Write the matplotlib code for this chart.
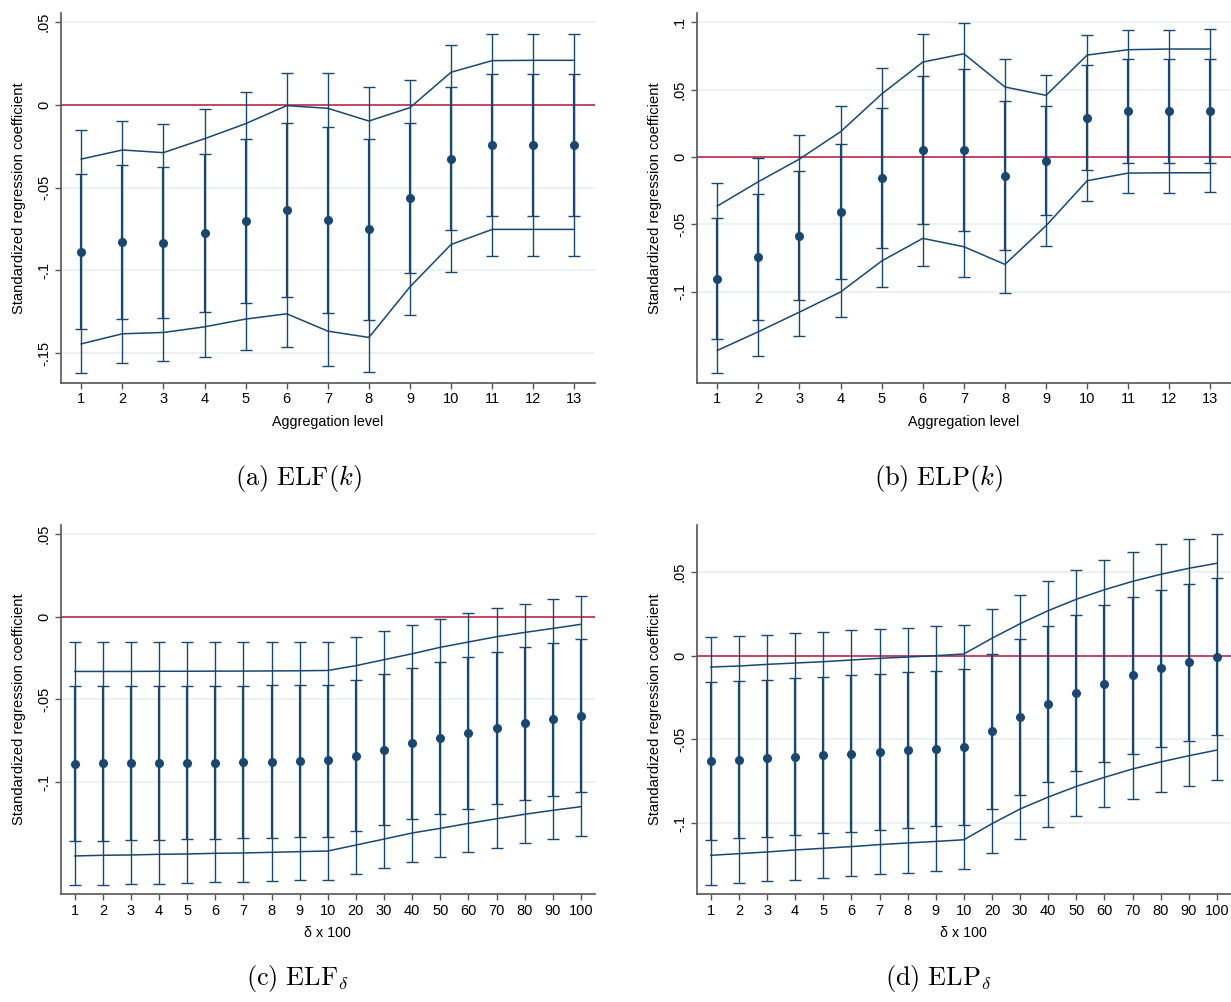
import numpy as np
import matplotlib.pyplot as plt

plt.rcParams['font.family'] = ['Liberation Sans', 'DejaVu Sans']
plt.rcParams['mathtext.fontset'] = 'cm'

navy = "#1a476f"
rojo = "#c0284a"
grid_col = "#e8f0f2"

# ---- panel (a) ELF(k)
k_niveles = list(range(1, 14))
a_coef = [-0.0887, -0.0829, -0.0833, -0.0772, -0.0704, -0.0633, -0.0694, -0.0752, -0.0560, -0.0325, -0.0244, -0.0240, -0.0240]
a_ci95_hi = [-0.0151, -0.0095, -0.0117, -0.0022, 0.0077, 0.0196, 0.0192, 0.0109, 0.0151, 0.0361, 0.0429, 0.0431, 0.0431]
a_ci95_lo = [-0.1623, -0.1558, -0.1546, -0.1522, -0.1480, -0.1464, -0.1579, -0.1613, -0.1270, -0.1008, -0.0915, -0.0913, -0.0913]
a_ci90_hi = [-0.0417, -0.0361, -0.0375, -0.0296, -0.0206, -0.0107, -0.0131, -0.0204, -0.0107, 0.0111, 0.0185, 0.0190, 0.0188]
a_ci90_lo = [-0.1357, -0.1294, -0.1288, -0.1250, -0.1198, -0.1159, -0.1258, -0.1300, -0.1014, -0.0758, -0.0671, -0.0669, -0.0671]
a_sup = [-0.0327, -0.0272, -0.0288, -0.0204, -0.0113, -0.0004, -0.0020, -0.0097, -0.0016, 0.0198, 0.0268, 0.0270, 0.0270]
a_inf = [-0.1444, -0.1383, -0.1375, -0.1341, -0.1294, -0.1262, -0.1367, -0.1405, -0.1099, -0.0843, -0.0752, -0.0752, -0.0752]

# ---- panel (b) ELP(k)
b_coef = [-0.0903, -0.0740, -0.0584, -0.0408, -0.0153, 0.0050, 0.0050, -0.0139, -0.0027, 0.0287, 0.0339, 0.0339, 0.0341]
b_ci95_hi = [-0.0196, -0.0005, 0.0166, 0.0379, 0.0661, 0.0913, 0.0993, 0.0730, 0.0609, 0.0906, 0.0943, 0.0946, 0.0948]
b_ci95_lo = [-0.1607, -0.1475, -0.1329, -0.1191, -0.0968, -0.0809, -0.0891, -0.1007, -0.0661, -0.0324, -0.0265, -0.0265, -0.0263]
b_ci90_hi = [-0.0453, -0.0272, -0.0106, 0.0094, 0.0366, 0.0599, 0.0651, 0.0416, 0.0381, 0.0681, 0.0725, 0.0727, 0.0727]
b_ci90_lo = [-0.1351, -0.1208, -0.1059, -0.0906, -0.0673, -0.0498, -0.0550, -0.0691, -0.0431, -0.0099, -0.0047, -0.0045, -0.0045]
b_sup = [-0.0364, -0.0183, -0.0015, 0.0188, 0.0468, 0.0705, 0.0767, 0.0520, 0.0458, 0.0757, 0.0797, 0.0802, 0.0802]
b_inf = [-0.1436, -0.1297, -0.1151, -0.1002, -0.0772, -0.0604, -0.0666, -0.0797, -0.0510, -0.0176, -0.0119, -0.0117, -0.0117]

# ---- panel (c) ELF_delta
delta_labels = ["1", "2", "3", "4", "5", "6", "7", "8", "9", "10",
                "20", "30", "40", "50", "60", "70", "80", "90", "100"]
c_coef = [-0.0889, -0.0887, -0.0887, -0.0885, -0.0885, -0.0883, -0.0881, -0.0877, -0.0875, -0.0869,
          -0.0841, -0.0804, -0.0766, -0.0734, -0.0702, -0.0671, -0.0645, -0.0621, -0.0599]
c_ci95_hi = [-0.0155, -0.0155, -0.0155, -0.0155, -0.0155, -0.0155, -0.0155, -0.0155, -0.0155, -0.0151,
             -0.0125, -0.0089, -0.0048, -0.0012, 0.0022, 0.0052, 0.0079, 0.0105, 0.0127]
c_ci95_lo = [-0.1623, -0.1621, -0.1617, -0.1615, -0.1611, -0.1607, -0.1603, -0.1597, -0.1593, -0.1591,
             -0.1554, -0.1518, -0.1484, -0.1454, -0.1423, -0.1397, -0.1371, -0.1347, -0.1325]
c_ci90_hi = [-0.0417, -0.0417, -0.0417, -0.0417, -0.0417, -0.0417, -0.0417, -0.0415, -0.0413, -0.0411,
             -0.0385, -0.0349, -0.0310, -0.0274, -0.0242, -0.0212, -0.0183, -0.0157, -0.0135]
c_ci90_lo = [-0.1357, -0.1355, -0.1353, -0.1349, -0.1347, -0.1343, -0.1339, -0.1337, -0.1333, -0.1331,
             -0.1294, -0.1258, -0.1224, -0.1191, -0.1161, -0.1133, -0.1107, -0.1083, -0.1060]
c_sup = [-0.0331, -0.0331, -0.0331, -0.0330, -0.0330, -0.0329, -0.0329, -0.0328, -0.0327, -0.0325,
         -0.0296, -0.0260, -0.0224, -0.0185, -0.0153, -0.0121, -0.0095, -0.0071, -0.0046]
c_inf = [-0.1447, -0.1443, -0.1441, -0.1437, -0.1435, -0.1431, -0.1429, -0.1425, -0.1421, -0.1417,
         -0.1381, -0.1345, -0.1308, -0.1280, -0.1250, -0.1222, -0.1195, -0.1171, -0.1149]

# ---- panel (d) ELP_delta
d_coef = [-0.0629, -0.0622, -0.0614, -0.0604, -0.0594, -0.0586, -0.0576, -0.0566, -0.0556, -0.0546,
          -0.0452, -0.0367, -0.0291, -0.0223, -0.0167, -0.0118, -0.0076, -0.0040, -0.0008]
d_ci95_hi = [0.0110, 0.0118, 0.0125, 0.0133, 0.0141, 0.0151, 0.0161, 0.0167, 0.0177, 0.0185,
             0.0277, 0.0365, 0.0444, 0.0512, 0.0572, 0.0622, 0.0665, 0.0697, 0.0727]
d_ci95_lo = [-0.1371, -0.1359, -0.1349, -0.1339, -0.1329, -0.1319, -0.1307, -0.1297, -0.1285, -0.1277,
             -0.1179, -0.1096, -0.1022, -0.0958, -0.0902, -0.0855, -0.0815, -0.0777, -0.0741]
d_ci90_hi = [-0.0159, -0.0151, -0.0143, -0.0133, -0.0125, -0.0116, -0.0108, -0.0098, -0.0090, -0.0080,
             0.0012, 0.0100, 0.0177, 0.0245, 0.0303, 0.0353, 0.0394, 0.0430, 0.0462]
d_ci90_lo = [-0.1102, -0.1092, -0.1082, -0.1072, -0.1062, -0.1052, -0.1042, -0.1032, -0.1020, -0.1010,
             -0.0914, -0.0831, -0.0757, -0.0691, -0.0635, -0.0588, -0.0546, -0.0508, -0.0476]
d_sup = [-0.0068, -0.0062, -0.0052, -0.0044, -0.0036, -0.0026, -0.0016, -0.0008, 0.0000, 0.0010,
         0.0104, 0.0191, 0.0269, 0.0337, 0.0394, 0.0444, 0.0486, 0.0522, 0.0552]
d_inf = [-0.1193, -0.1183, -0.1173, -0.1161, -0.1151, -0.1141, -0.1129, -0.1119, -0.1110, -0.1100,
         -0.1004, -0.0916, -0.0845, -0.0781, -0.0727, -0.0677, -0.0635, -0.0598, -0.0564]


def Dibujar(ax, etiquetas, coef, hi95, lo95, hi90, lo90, sup, inf, ticks_y, lims_y, xlabel):
    x = np.arange(1, len(etiquetas) + 1)
    coef = np.array(coef)

    for t in ticks_y:
        ax.axhline(t, color=grid_col, linewidth=1.2, zorder=0)
    ax.axhline(0, color=rojo, linewidth=1.2, zorder=1)

    # intervalo 95% (fino) y 90% (algo mas grueso)
    ax.errorbar(x, coef, yerr=[coef - np.array(lo95), np.array(hi95) - coef], fmt="none",
                ecolor=navy, elinewidth=1.0, capsize=4, capthick=1.0, zorder=2)
    ax.errorbar(x, coef, yerr=[coef - np.array(lo90), np.array(hi90) - coef], fmt="none",
                ecolor=navy, elinewidth=1.6, capsize=4, capthick=1.0, zorder=2)
    ax.plot(x, sup, color=navy, linewidth=1.1, zorder=3)
    ax.plot(x, inf, color=navy, linewidth=1.1, zorder=3)
    ax.plot(x, coef, "o", color=navy, markersize=5.5, zorder=4)

    ax.set_xlim(0.5, len(etiquetas) + 0.5)
    ax.set_ylim(*lims_y)
    ax.set_xticks(x)
    ax.set_xticklabels(etiquetas, fontsize=10.5)
    ax.set_yticks(ticks_y)
    ax.set_yticklabels([("%g" % t).replace("0.", ".") for t in ticks_y],
                       rotation=90, va="center", fontsize=10.5)
    ax.set_ylabel("Standardized regression coefficient", fontsize=10.6, labelpad=8)
    ax.set_xlabel(xlabel, fontsize=10.3, labelpad=6)

    for lado in ["top", "right"]:
        ax.spines[lado].set_visible(False)
    for lado in ["left", "bottom"]:
        ax.spines[lado].set_color("#555555")
        ax.spines[lado].set_linewidth(1.2)
    ax.tick_params(direction="out", length=4, width=1, color="#555555", pad=3)


fig = plt.figure(figsize=(12.31, 10.02), dpi=100)
ax_a = fig.add_axes([0.0493, 0.618, 0.434, 0.3687])
ax_b = fig.add_axes([0.566, 0.618, 0.434, 0.3687])
ax_c = fig.add_axes([0.0493, 0.1078, 0.434, 0.3683])
ax_d = fig.add_axes([0.566, 0.1078, 0.434, 0.3683])

etiq_k = [str(k) for k in k_niveles]
Dibujar(ax_a, etiq_k, a_coef, a_ci95_hi, a_ci95_lo, a_ci90_hi, a_ci90_lo, a_sup, a_inf,
        [0.05, 0, -0.05, -0.1, -0.15], (-0.1679, 0.0554), "Aggregation level")
Dibujar(ax_b, etiq_k, b_coef, b_ci95_hi, b_ci95_lo, b_ci90_hi, b_ci90_lo, b_sup, b_inf,
        [0.1, 0.05, 0, -0.05, -0.1], (-0.1676, 0.1067), "Aggregation level")
Dibujar(ax_c, delta_labels, c_coef, c_ci95_hi, c_ci95_lo, c_ci90_hi, c_ci90_lo, c_sup, c_inf,
        [0.05, 0, -0.05, -0.1], (-0.1677, 0.0555), "δ x 100")
Dibujar(ax_d, delta_labels, d_coef, d_ci95_hi, d_ci95_lo, d_ci90_hi, d_ci90_lo, d_sup, d_inf,
        [0.05, 0, -0.05, -0.1], (-0.1424, 0.0781), "δ x 100")

# subtitulos estilo LaTeX
fig.text(298 / 1231, 1 - 478 / 1002, r"$\mathrm{(a)}\ \mathrm{ELF}(k)$", ha="center", va="center", fontsize=19)
fig.text(938 / 1231, 1 - 478 / 1002, r"$\mathrm{(b)}\ \mathrm{ELP}(k)$", ha="center", va="center", fontsize=19)
fig.text(298 / 1231, 1 - 978 / 1002, r"$\mathrm{(c)}\ \mathrm{ELF}_{\delta}$", ha="center", va="center", fontsize=19)
fig.text(938 / 1231, 1 - 978 / 1002, r"$\mathrm{(d)}\ \mathrm{ELP}_{\delta}$", ha="center", va="center", fontsize=19)

fig.savefig("out.png", dpi=100)
